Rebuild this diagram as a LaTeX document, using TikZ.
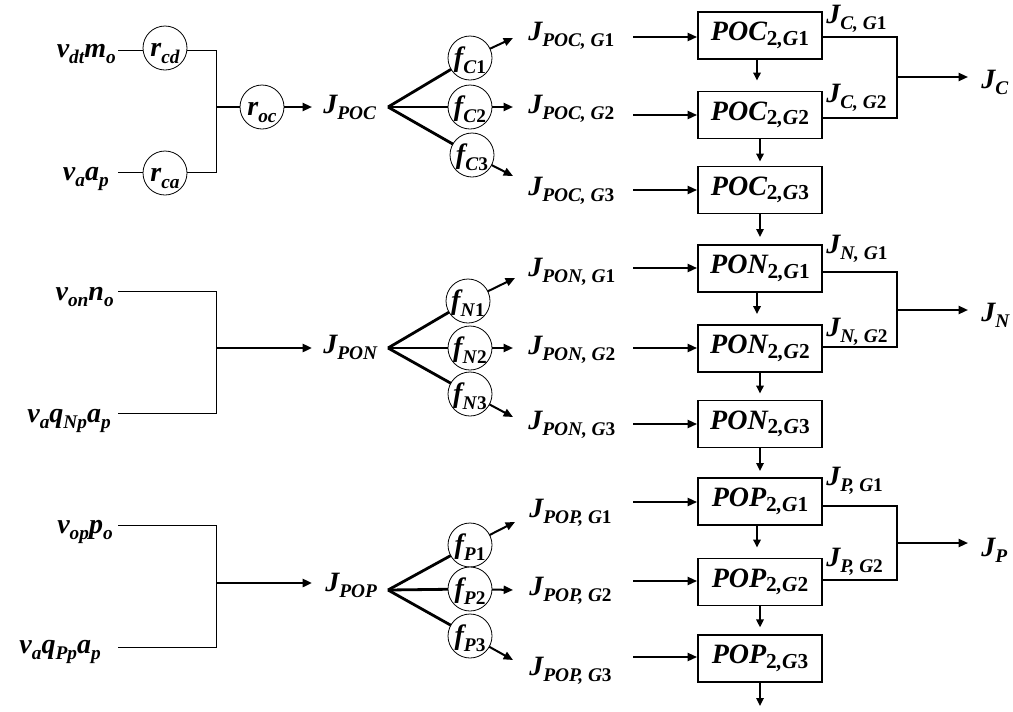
\documentclass[tikz,border=0pt]{standalone}
\usepackage{fontspec}
\setmainfont{Liberation Serif}
\usetikzlibrary{arrows.meta}
\newcommand\lsub[1]{\raisebox{-5pt}{\fontsize{14.5}{16}\selectfont #1}}
\newcommand\bsub[1]{\raisebox{-3.3pt}{\fontsize{16}{18}\selectfont #1}}
\newcommand\dg[1]{\textup{#1}}
\newcommand\cc[1]{\raisebox{-6.5pt}[0pt][0pt]{#1}}
\begin{document}
\begin{tikzpicture}[x=0.75pt,y=-0.75pt,
 every node/.style={font=\fontsize{21}{25}\selectfont\bfseries\itshape, inner sep=0pt},
 lab/.style={anchor=base west},
 llab/.style={anchor=base east},
 cir/.style={circle, draw, fill=white, minimum size=33pt, line width=0.6pt},
 procbox/.style={draw, line width=1.4pt, minimum width=93pt, minimum height=35.25pt},
 lwa/.style={line width=0.75pt},
 lwb/.style={line width=1.5pt},
 lwc/.style={line width=2.1pt},
 arr/.style={-{Triangle[length=7pt,width=6pt]}},
 sarr/.style={-{Triangle[length=6pt,width=5.5pt]}},
]
\useasboundingbox (0,0) rectangle (1013,711);

% ================= Section C =================
\node[llab] (vdt) at (116,57) {v\lsub{dt}m\lsub{o}};
\node[llab] (vaC) at (109,180) {v\lsub{a}a\lsub{p}};
\coordinate (sC1) at (118,50);
\coordinate (sC2) at (118,172);
\node[cir] (rcd) at (165,48) {\cc{r\lsub{cd}}};
\node[cir] (rca) at (165,173) {\cc{r\lsub{ca}}};
\coordinate (jC) at (216,107);
\node[cir] (roc) at (262,107) {\cc{r\lsub{oc}}};
\coordinate (aC) at (312,107);
\node[lab] (JPOC) at (323,113) {J\lsub{POC}};
\draw[lwa] (sC1) -- (sC1 -| rcd.west);
\draw[lwa] (sC2) -- (sC2 -| rca.west);
\draw[lwa] (rcd.east |- sC1) -| (jC);
\draw[lwa] (rca.east |- sC2) -| (jC);
\draw[lwb] (jC) -- (roc);
\draw[lwb,arr] (roc) -- (aC);

\coordinate (oC) at (388,107);
\coordinate (tC1) at (513,38);
\coordinate (tC2) at (513,107);
\coordinate (tC3) at (513,176);
\coordinate (fC1) at (470,58);
\coordinate (fC2) at (470,107);
\coordinate (fC3) at (472,155);
\draw[lwc] (oC) -- (fC1);
\draw[lwc] (oC) -- (fC2);
\draw[lwc] (oC) -- (fC3);
\draw[lwb,arr] (fC1) -- (tC1);
\draw[lwb,arr] (fC2) -- (tC2);
\draw[lwb,arr] (fC3) -- (tC3);
\node[cir] (cC1) at (fC1) {\cc{f\lsub{C\dg{1}}}};
\node[cir] (cC2) at (fC2) {\cc{f\lsub{C\dg{2}}}};
\node[cir] (cC3) at (fC3) {\cc{f\lsub{C\dg{3}}}};

\node[lab] (JC1) at (528,40) {J\lsub{POC, G\dg{1}}};
\node[lab] (JC2) at (528,113) {J\lsub{POC, G\dg{2}}};
\node[lab] (JC3) at (528,195) {J\lsub{POC, G\dg{3}}};
\coordinate (iC1) at (633,37);
\coordinate (iC2) at (633,115);
\coordinate (iC3) at (633,190);
\node[procbox] (bC1) at (760,35.5) {POC\bsub{\dg{2},G\dg{1}}};
\node[procbox] (bC2) at (760,115) {POC\bsub{\dg{2},G\dg{2}}};
\node[procbox] (bC3) at (760,190) {POC\bsub{\dg{2},G\dg{3}}};
\draw[lwb,arr] (iC1) -- (iC1 -| bC1.west);
\draw[lwb,arr] (iC2) -- (iC2 -| bC2.west);
\draw[lwb,arr] (iC3) -- (iC3 -| bC3.west);
\draw[lwb,sarr,shorten >=7.5pt] ([xshift=-2.25pt]bC1.south) -- ([xshift=-2.25pt]bC2.north);
\draw[lwb,sarr,shorten >=3pt] (bC2.south) -- (bC3.north);
\coordinate (dC) at (760,237);
\draw[lwb,sarr] (bC3.south) -- (dC);
\coordinate (kC) at (897,77);
\coordinate (eC) at (968,77);
\draw[lwb] ([yshift=-1.1pt]bC1.east) -| (kC);
\draw[lwb] ([yshift=-2.2pt]bC2.east) -| (kC);
\draw[lwb,arr] (kC) -- (eC);
\node[lab] (JCG1) at (826,23) {J\lsub{C, G\dg{1}}};
\node[lab] (JCG2) at (826,102) {J\lsub{C, G\dg{2}}};
\node[lab] (JCt) at (981,88) {J\lsub{C}};

% ================= Section N =================
\node[llab] (von) at (114,300) {v\lsub{on}n\lsub{o}};
\node[llab] (vaN) at (111,422) {v\lsub{a}q\lsub{Np}a\lsub{p}};
\coordinate (sN1) at (118,291);
\coordinate (sN2) at (118,413);
\coordinate (jN) at (216,348);
\coordinate (aN) at (312,348);
\node[lab] (JPON) at (323,353) {J\lsub{PON}};
\draw[lwa] (sN1) -| (jN);
\draw[lwa] (sN2) -| (jN);
\draw[lwc,arr] (jN) -- (aN);

\coordinate (oN) at (388,348);
\coordinate (tN1) at (515,278);
\coordinate (tN2) at (513,348);
\coordinate (tN3) at (513,417);
\coordinate (fN1) at (468,301);
\coordinate (fN2) at (470,348);
\coordinate (fN3) at (470,394);
\draw[lwc] (oN) -- (fN1);
\draw[lwc] (oN) -- (fN2);
\draw[lwc] (oN) -- (fN3);
\draw[lwb,arr] (fN1) -- (tN1);
\draw[lwb,arr] (fN2) -- (tN2);
\draw[lwb,arr] (fN3) -- (tN3);
\node[cir] (cN1) at (fN1) {\cc{f\lsub{N\dg{1}}}};
\node[cir] (cN2) at (fN2) {\cc{f\lsub{N\dg{2}}}};
\node[cir] (cN3) at (fN3) {\cc{f\lsub{N\dg{3}}}};

\node[lab] (JN1) at (528,276) {J\lsub{PON, G\dg{1}}};
\node[lab] (JN2) at (528,354) {J\lsub{PON, G\dg{2}}};
\node[lab] (JN3) at (528,429) {J\lsub{PON, G\dg{3}}};
\coordinate (iN1) at (633,268);
\coordinate (iN2) at (633,348);
\coordinate (iN3) at (633,424);
\node[procbox] (bN1) at (760,268.5) {PON\bsub{\dg{2},G\dg{1}}};
\node[procbox] (bN2) at (760,348.5) {PON\bsub{\dg{2},G\dg{2}}};
\node[procbox] (bN3) at (760,424) {PON\bsub{\dg{2},G\dg{3}}};
\draw[lwb,arr] (iN1) -- (iN1 -| bN1.west);
\draw[lwb,arr] (iN2) -- (iN2 -| bN2.west);
\draw[lwb,arr] (iN3) -- (iN3 -| bN3.west);
\draw[lwb,sarr,shorten >=7.5pt] ([xshift=-2.25pt]bN1.south) -- ([xshift=-2.25pt]bN2.north);
\draw[lwb,sarr,shorten >=4.5pt] (bN2.south) -- (bN3.north);
\coordinate (dN) at (760,471);
\draw[lwb,sarr] (bN3.south) -- (dN);
\coordinate (kN) at (897,310);
\coordinate (eN) at (968,310);
\draw[lwb] ([yshift=-2.4pt]bN1.east) -| (kN);
\draw[lwb] ([yshift=1.3pt]bN2.east) -| (kN);
\draw[lwb,arr] (kN) -- (eN);
\node[lab] (JNG1) at (826,253) {J\lsub{N, G\dg{1}}};
\node[lab] (JNG2) at (826,336) {J\lsub{N, G\dg{2}}};
\node[lab] (JNt) at (981,321) {J\lsub{N}};

% ================= Section P =================
\node[llab] (vop) at (113,533) {v\lsub{op}p\lsub{o}};
\node[llab] (vaP) at (101,653) {v\lsub{a}q\lsub{Pp}a\lsub{p}};
\coordinate (sP1) at (118,525);
\coordinate (sP2) at (118,647);
\coordinate (jP) at (216,583);
\coordinate (aP) at (312,583);
\node[lab] (JPOP) at (325,591) {J\lsub{POP}};
\draw[lwa] (sP1) -| (jP);
\draw[lwa] (sP2) -| (jP);
\draw[lwc,arr] (jP) -- (aP);

\coordinate (oP) at (388,590);
\coordinate (tP1) at (515,522);
\coordinate (tP2) at (513,590);
\coordinate (tP3) at (513,660);
\coordinate (fP1) at (470,545);
\coordinate (fP2) at (470,589);
\coordinate (fP3) at (470,636);
\draw[lwc] (oP) -- (fP1);
\draw[lwc] (oP) -- (fP2);
\draw[lwc] (oP) -- (fP3);
\draw[lwb,arr] (fP1) -- (tP1);
\draw[lwb,arr] (fP2) -- (tP2);
\draw[lwb,arr] (fP3) -- (tP3);
\node[cir] (cP1) at (fP1) {\cc{f\lsub{P\dg{1}}}};
\node[cir] (cP2) at (fP2) {\cc{f\lsub{P\dg{2}}}};
\node[cir] (cP3) at (fP3) {\cc{f\lsub{P\dg{3}}}};

\node[lab] (JP1) at (529,517) {J\lsub{POP, G\dg{1}}};
\node[lab] (JP2) at (529,595) {J\lsub{POP, G\dg{2}}};
\node[lab] (JP3) at (529,675) {J\lsub{POP, G\dg{3}}};
\coordinate (iP1) at (633,502);
\coordinate (iP2) at (633,581);
\coordinate (iP3) at (633,657);
\node[procbox] (bP1) at (760,501.5) {POP\bsub{\dg{2},G\dg{1}}};
\node[procbox] (bP2) at (760,582) {POP\bsub{\dg{2},G\dg{2}}};
\node[procbox] (bP3) at (760,658.5) {POP\bsub{\dg{2},G\dg{3}}};
\draw[lwb,arr] (iP1) -- (iP1 -| bP1.west);
\draw[lwb,arr] (iP2) -- (iP2 -| bP2.west);
\draw[lwb,arr] (iP3) -- (iP3 -| bP3.west);
\draw[lwb,sarr,shorten >=7.5pt] ([xshift=-2.25pt]bP1.south) -- ([xshift=-2.25pt]bP2.north);
\draw[lwb,sarr,shorten >=5pt] (bP2.south) -- (bP3.north);
\coordinate (dP) at (760,706);
\draw[lwb,sarr] (bP3.south) -- (dP);
\coordinate (kP) at (897,543);
\coordinate (eP) at (968,543);
\draw[lwb] ([yshift=-3.4pt]bP1.east) -| (kP);
\draw[lwb] ([yshift=1.5pt]bP2.east) -| (kP);
\draw[lwb,arr] (kP) -- (eP);
\node[lab] (JPG1) at (826,485) {J\lsub{P, G\dg{1}}};
\node[lab] (JPG2) at (826,566) {J\lsub{P, G\dg{2}}};
\node[lab] (JPt) at (981,556) {J\lsub{P}};
\end{tikzpicture}
\end{document}
